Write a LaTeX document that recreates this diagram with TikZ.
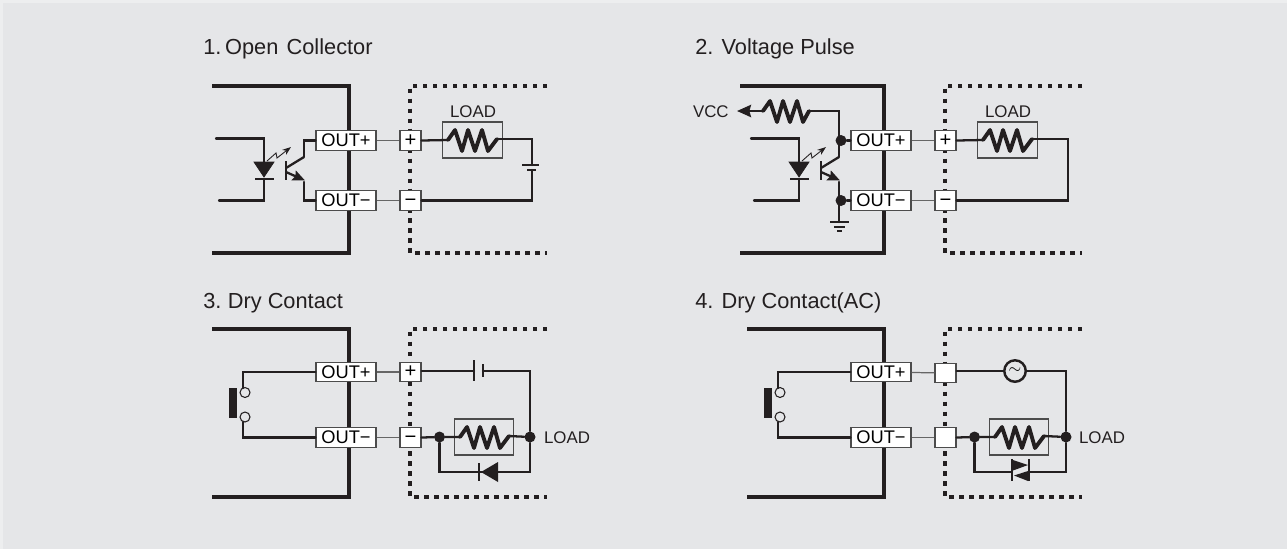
\documentclass[tikz,border=0pt]{standalone}
\usepackage{fontspec}
\setmainfont{Liberation Sans}
\usetikzlibrary{arrows.meta,positioning,calc}
\definecolor{panelgrey}{HTML}{E5E6E8}
\definecolor{edgegrey}{HTML}{EDEEEF}
\definecolor{inkgrey}{HTML}{231F20}
\tikzstyle{wire}     = [line width=1.3pt,inkgrey,line cap=round,line join=miter]
\tikzstyle{thinwire} = [line width=.7pt,black!60]
\tikzstyle{casing}   = [line width=2.4pt,inkgrey]
\tikzstyle{dotline}  = [line width=2.3pt,inkgrey,dash pattern=on 2.56pt off 3.12pt]
\tikzstyle{outbox}   = [draw=black!70,fill=white,line width=.65pt,minimum width=1.2cm,minimum height=.385cm,inner sep=0pt,font=\fontsize{10.4}{10}\selectfont]
\tikzstyle{termbox}  = [draw=black!70,fill=white,line width=.65pt,minimum width=.42cm,minimum height=.39cm,inner sep=0pt,text height=.66em,text depth=0pt,font=\fontsize{11.5}{10}\selectfont]
\tikzstyle{loadbox}  = [draw=black!70,line width=.65pt,minimum width=1.19cm,minimum height=.72cm,inner sep=0pt]
\tikzstyle{title}    = [anchor=base west,inner sep=0pt,inkgrey,font=\fontsize{12.4}{12.4}\selectfont]
\tikzstyle{label}    = [inner sep=0pt,inkgrey,font=\fontsize{9.6}{9.6}\selectfont]
\tikzstyle{joint}    = [circle,fill=inkgrey,minimum size=.22cm,inner sep=0pt]
\tikzstyle{contact}  = [circle,draw=inkgrey,fill=panelgrey,line width=.6pt,minimum size=.2cm,inner sep=0pt]
% zigzag between two named points
\newcommand{\zigzag}[2]{
    \draw[line width=2.2pt,inkgrey,line join=round,line cap=round] (#1)
        -- ++(7,-10) -- ++(7,21) -- ++(6,-21) -- ++(7,21) -- ++(7,-21) -- ++(6,21) -- (#2);
}
% the case and the dotted frame of a panel
\newcommand{\frames}[3]{
    \draw[casing] (#1,#2) -| (349,#3) -- (#1,#3);
    \draw[dotline] (547,#2) -- (410,#2) -- (410,#3) -- (547,#3);
}
% led and transistor
\newcommand{\coupler}{
    \draw[wire] (216,138.5) -| (264,162);
    \draw[wire] (264,179) |- (219,200.5);
    \filldraw[inkgrey] (254,162) -- (274,162) -- (264,177) -- cycle;
    \draw[wire,line cap=butt] (255,179) -- (274,179);
    \draw[line width=.5pt,inkgrey,-{Stealth[length=5pt,width=3.6pt]}] (267,161) -- (276,153) -- (277,158) -- (291,147);
    \draw[line width=1.5pt,inkgrey] (286,161) -- (286,180);
    \draw[wire,line cap=butt] (286,168) -- (304,157);
    \draw[wire,line cap=butt,-{Stealth[length=7pt,width=6pt,inset=1pt]}] (286,172) -- (305,180.5);
}
\begin{document}
\begin{tikzpicture}[x=.02cm,y=-.02cm]
    \useasboundingbox (0,0) rectangle (1287,549);
    \fill[edgegrey] (0,0) rectangle (1287,549);
    \fill[panelgrey] (3,3) rectangle (1287,549);
    \node[title] at (203,54) (T1) {1.\kern-2.5pt{} Open\kern1.2pt{} Collector};
    \node[title] at (695,54) (T2) {2. Voltage Pulse};
    \node[title] at (203,308) (T3) {3.\kern-1pt{} Dry Contact};
    \node[title] at (695,308) (T4) {4. Dry Contact(AC)};

    % panel 1
    \frames{212}{86}{253}
    \coupler
    \coordinate (Z1a) at (448,140);
    \coordinate (Z1b) at (497,139);
    \node[loadbox] at (472.5,140) (R1) {};
    \zigzag{Z1a}{Z1b}
    \node[label] at (473,112) (L1) {LOAD};
    \node[outbox] at (346,140.5) (P1) {OUT+};
    \node[outbox] at (346,200.5) (M1) {OUT−};
    \node[termbox] at (410.5,140.5) (A1) {+};
    \node[termbox] at (410.5,200.5) (B1) {−};
    \draw[thinwire] (P1) -- (A1);
    \draw[thinwire] (M1) -- (B1);
    \draw[wire] (P1.west) -| (304,157);
    \draw[wire] (M1.west) -| (304,182);
    \draw[wire] (A1.east) -- (Z1a);
    \coordinate (C1a) at (532,165);
    \coordinate (C1b) at (532,170);
    \draw[wire] (Z1b) -| (C1a);
    \draw[wire] (B1.east) -| (C1b);
    \draw[line width=.8pt,inkgrey] (522,165) -- (539,165);
    \draw[line width=1.6pt,inkgrey] (527,170) -- (536,170);

    % panel 2
    \begin{scope}[shift={(535,0)}]
        \frames{205}{86}{253}
        \coupler
        \coordinate (Z2a) at (448,140);
        \coordinate (Z2b) at (497,139);
        \node[loadbox] at (472.5,140) (R2) {};
        \zigzag{Z2a}{Z2b}
        \node[label] at (473,112) (L2) {LOAD};
        \node[outbox] at (346,140.5) (P2) {OUT+};
        \node[outbox] at (346,200.5) (M2) {OUT−};
        \node[termbox] at (410.5,140.5) (A2) {+};
        \node[termbox] at (410.5,200.5) (B2) {−};
        \draw[thinwire] (P2) -- (A2);
        \draw[thinwire] (M2) -- (B2);
        \draw[wire] (A2.east) -- (Z2a);
        \draw[wire] (Z2b) -| (533,170) |- (B2.east);
        \node[joint] at (306,140.5) (J2a) {};
        \node[joint] at (306,200.5) (J2b) {};
        \draw[wire] (J2a) -- (P2.west);
        \draw[wire] (J2b) -- (M2.west);
        \node[label,anchor=east] at (194,112) (V2) {VCC};
        \coordinate (Z2c) at (228,111);
        \coordinate (Z2d) at (274,111);
        \zigzag{Z2c}{Z2d}
        \draw[wire,line cap=butt,-{Stealth[length=8pt,width=7pt,inset=1pt]}] (Z2c) -- (202,111);
        \draw[wire] (Z2d) -| (304,157);
        \draw[wire] (304,182) -- (304,222);
        \draw[wire,line cap=butt,line width=1pt] (295,222) -- (314,222);
        \draw[wire,line cap=butt,line width=.9pt] (299,227) -- (310,227);
        \draw[wire,line cap=butt,line width=.9pt] (302,231) -- (307,231);
    \end{scope}

    % panel 3
    \frames{212}{329}{497}
    \node[outbox] at (346,372) (P3) {OUT+};
    \node[outbox] at (346,437.5) (M3) {OUT−};
    \node[termbox] at (410.5,372) (A3) {+};
    \node[termbox] at (410.5,437.5) (B3) {−};
    \draw[thinwire] (P3) -- (A3);
    \draw[thinwire] (M3) -- (B3);
    \node[contact] at (245,392.5) (S3a) {};
    \node[contact] at (245,417) (S3b) {};
    \draw[wire] (P3.west) -| (243,388);
    \draw[wire] (M3.west) -| (243,422);
    \fill[inkgrey] (229,388) rectangle (237,418);
    \node[loadbox] at (484,437) (R3) {};
    \node[joint] at (439.5,437) (J3a) {};
    \node[joint] at (530,437) (J3b) {};
    \coordinate (Z3a) at (460,437);
    \coordinate (Z3b) at (509,436);
    \zigzag{Z3a}{Z3b}
    \draw[wire] (B3.east) -- (J3a) -- (Z3a);
    \draw[wire] (Z3b) -- (J3b);
    \node[label] at (567,438) (L3) {LOAD};
    \coordinate (C3a) at (474,371);
    \coordinate (C3b) at (483,371);
    \draw[wire] (C3a) -- (C3a -| A3.east);
    \draw[wire] (C3b) -| (J3b);
    \draw[line width=.7pt,inkgrey] (474,360) -- (474,381);
    \draw[line width=1.6pt,inkgrey] (483,364) -- (483,377);
    \draw[wire] (J3a) |- (530,472) -- (J3b);
    \fill[inkgrey] (481,472) -- (498,462) -- (498,482) -- cycle;
    \draw[line width=.8pt,inkgrey] (479,463) -- (479,481);

    % panel 4
    \begin{scope}[shift={(535,0)}]
        \frames{212}{329}{497}
        \node[outbox] at (346,372) (P4) {OUT+};
        \node[outbox] at (346,437.5) (M4) {OUT−};
        \node[termbox] at (410.5,373) (A4) {};
        \node[termbox] at (410.5,437.5) (B4) {};
        \draw[thinwire] (P4) -- (A4);
        \draw[thinwire] (M4) -- (B4);
        \node[contact] at (245,392.5) (S4a) {};
        \node[contact] at (245,417) (S4b) {};
        \draw[wire] (P4.west) -| (243,388);
        \draw[wire] (M4.west) -| (243,422);
        \fill[inkgrey] (229,388) rectangle (237,418);
        \node[loadbox] at (484,437) (R4) {};
        \node[joint] at (439.5,437) (J4a) {};
        \node[joint] at (531,437) (J4b) {};
        \coordinate (Z4a) at (460,437);
        \coordinate (Z4b) at (509,436);
        \zigzag{Z4a}{Z4b}
        \draw[wire] (B4.east) -- (J4a) -- (Z4a);
        \draw[wire] (Z4b) -- (J4b);
        \node[label] at (567,438) (L4) {LOAD};
        \node[circle,draw=inkgrey,line width=1.4pt,minimum size=.43cm,inner sep=0pt,font=\fontsize{9}{9}\selectfont] at (480,371) (G4) {$\sim$};
        \draw[wire] (G4) -- (G4 -| A4.east);
        \draw[wire] (G4) -| (J4b);
        \coordinate (D4a) at (477,472);
        \coordinate (D4b) at (494,472);
        \draw[wire] (J4a) |- (D4a);
        \draw[wire] (D4b) -| (J4b);
        \fill[inkgrey] (478,460) -- (493,465) -- (478,470.5) -- cycle;
        \fill[inkgrey] (493,471) -- (479,475.5) -- (493,481) -- cycle;
        \draw[line width=1.1pt,inkgrey] (477,459) -- (477,481);
        \draw[line width=1.1pt,inkgrey] (494,459) -- (494,481);
    \end{scope}
\end{tikzpicture}
\end{document}
